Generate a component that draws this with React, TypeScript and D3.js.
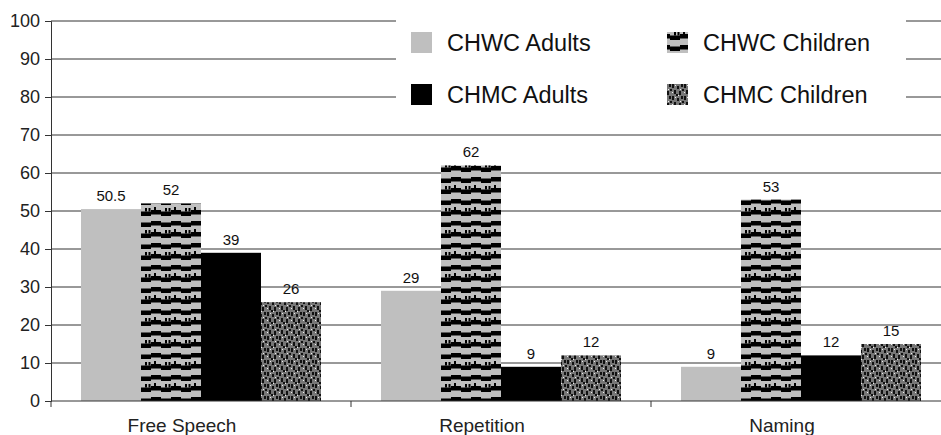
import * as d3 from 'd3';
import { useEffect, useRef } from 'react';

const categories = ['Free Speech', 'Repetition', 'Naming'];
const series = ['CHWC Adults', 'CHWC Children', 'CHMC Adults', 'CHMC Children'];
const chwcAdults = [50.5, 29, 9];
const chwcChildren = [52, 62, 53];
const chmcAdults = [39, 9, 12];
const chmcChildren = [26, 12, 15];
const yTicks = [0, 10, 20, 30, 40, 50, 60, 70, 80, 90, 100];

const values = [chwcAdults, chwcChildren, chmcAdults, chmcChildren];
const fills = ['#bfbfbf', 'url(#stripes)', '#000', 'url(#speckle)'];

const W = 941;
const H = 435;
const margin = { left: 51, top: 21, bottom: 34 };
const font = 'Liberation Sans, Arial, sans-serif';

export default function App() {
  const ref = useRef<SVGSVGElement>(null);

  useEffect(() => {
    const svg = d3.select(ref.current);
    svg.selectAll('*').remove();

    const defs = svg.append('defs');

    // grey with black stepped dashes
    const p1 = defs
      .append('pattern')
      .attr('id', 'stripes')
      .attr('patternUnits', 'userSpaceOnUse')
      .attr('width', 20)
      .attr('height', 22);
    p1.append('rect').attr('width', 20).attr('height', 22).attr('fill', '#bfbfbf');
    const blk: [number, number, number, number][] = [
      [0, 1, 10, 4.5],
      [10, 2.5, 10, 4.5],
      [0, 12, 10, 4.5],
      [10, 13.5, 10, 4.5],
      [3, 9, 2, 3],
      [14, 10, 2, 3.5],
      [17.5, 10, 2, 3.5],
    ];
    blk.forEach(([x, y, w, h]) =>
      p1.append('rect').attr('x', x).attr('y', y).attr('width', w).attr('height', h).attr('fill', '#000')
    );

    // dark grey speckle
    const p2 = defs
      .append('pattern')
      .attr('id', 'speckle')
      .attr('patternUnits', 'userSpaceOnUse')
      .attr('width', 12)
      .attr('height', 12);
    p2.append('rect').attr('width', 12).attr('height', 12).attr('fill', '#777');
    const dark: [number, number, number, number][] = [
      [0, 0, 2, 4],
      [5, 2, 2, 3],
      [9, 0, 2, 3],
      [2, 6, 2, 4],
      [7, 7, 2, 4],
      [10, 5, 2, 2],
      [4, 10, 2, 2],
    ];
    dark.forEach(([x, y, w, h]) =>
      p2.append('rect').attr('x', x).attr('y', y).attr('width', w).attr('height', h).attr('fill', '#111')
    );
    [[3, 1], [8, 5], [0, 8], [6, 11]].forEach(([x, y]) =>
      p2.append('rect').attr('x', x).attr('y', y).attr('width', 1).attr('height', 1).attr('fill', '#eee')
    );

    const x0 = d3
      .scaleBand()
      .domain(categories)
      .range([margin.left, margin.left + 900]);
    const x1 = d3
      .scaleBand()
      .domain(series)
      .range([30, x0.bandwidth() - 30]);
    const y = d3
      .scaleLinear()
      .domain([0, 100])
      .range([H - margin.bottom, margin.top]);

    // gridlines
    svg
      .append('g')
      .selectAll('line')
      .data(yTicks.filter((t) => t > 0))
      .enter()
      .append('line')
      .attr('x1', margin.left)
      .attr('x2', W)
      .attr('y1', (d) => y(d))
      .attr('y2', (d) => y(d))
      .attr('stroke', '#333')
      .attr('stroke-width', 1);

    // bars
    const groups = svg
      .append('g')
      .selectAll('g')
      .data(categories)
      .enter()
      .append('g')
      .attr('transform', (d) => `translate(${x0(d)},0)`);

    groups
      .selectAll('rect')
      .data((_d, i) => series.map((s, j) => ({ s, j, v: values[j][i] })))
      .enter()
      .append('rect')
      .attr('x', (d) => x1(d.s)!)
      .attr('y', (d) => y(d.v))
      .attr('width', x1.bandwidth())
      .attr('height', (d) => y(0) - y(d.v))
      .attr('fill', (d) => fills[d.j]);

    groups
      .selectAll('text')
      .data((_d, i) => series.map((s, j) => ({ s, j, v: values[j][i] })))
      .enter()
      .append('text')
      .attr('x', (d) => x1(d.s)! + x1.bandwidth() / 2)
      .attr('y', (d) => y(d.v) - 8)
      .attr('text-anchor', 'middle')
      .attr('font-family', font)
      .attr('font-size', 15)
      .attr('fill', '#111')
      .text((d) => String(d.v));

    // y axis
    const yAxis = svg
      .append('g')
      .attr('transform', `translate(${margin.left},0)`)
      .call(d3.axisLeft(y).tickValues(yTicks).tickSize(6).tickPadding(5));
    yAxis.select('.domain').attr('stroke', '#333');
    yAxis.selectAll('line').attr('stroke', '#333');
    yAxis
      .selectAll('text')
      .attr('font-family', font)
      .attr('font-size', 18)
      .attr('fill', '#222');

    // x axis
    const xAxis = svg
      .append('g')
      .attr('transform', `translate(0,${y(0)})`);
    xAxis
      .append('line')
      .attr('x1', margin.left)
      .attr('x2', W)
      .attr('stroke', '#333');
    xAxis
      .selectAll('.tick')
      .data(categories)
      .enter()
      .append('line')
      .attr('x1', (d) => x0(d)!)
      .attr('x2', (d) => x0(d)!)
      .attr('y1', 0)
      .attr('y2', 6)
      .attr('stroke', '#333');
    xAxis
      .selectAll('text')
      .data(categories)
      .enter()
      .append('text')
      .attr('x', (d) => x0(d)! + x0.bandwidth() / 2 - 19)
      .attr('y', 31)
      .attr('text-anchor', 'middle')
      .attr('font-family', font)
      .attr('font-size', 19)
      .attr('fill', '#222')
      .text((d) => d);

    // legend
    const legend = svg.append('g');
    legend
      .append('rect')
      .attr('x', 396)
      .attr('y', 10)
      .attr('width', 510)
      .attr('height', 108)
      .attr('fill', '#fff');
    const lx = [411, 667];
    const ly = [32, 84];
    series.forEach((s, i) => {
      const cx = lx[i % 2];
      const cy = ly[Math.floor(i / 2)];
      legend
        .append('rect')
        .attr('x', cx)
        .attr('y', cy)
        .attr('width', 21)
        .attr('height', 21)
        .attr('fill', fills[i]);
      legend
        .append('text')
        .attr('x', cx + 36)
        .attr('y', cy + 19)
        .attr('font-family', font)
        .attr('font-size', 23.5)
        .attr('fill', '#111')
        .text(s);
    });
  }, []);

  return (
    <svg
      ref={ref}
      width={W}
      height={H}
      style={{ position: 'absolute', left: 0, top: 0, background: '#fff' }}
    />
  );
}
